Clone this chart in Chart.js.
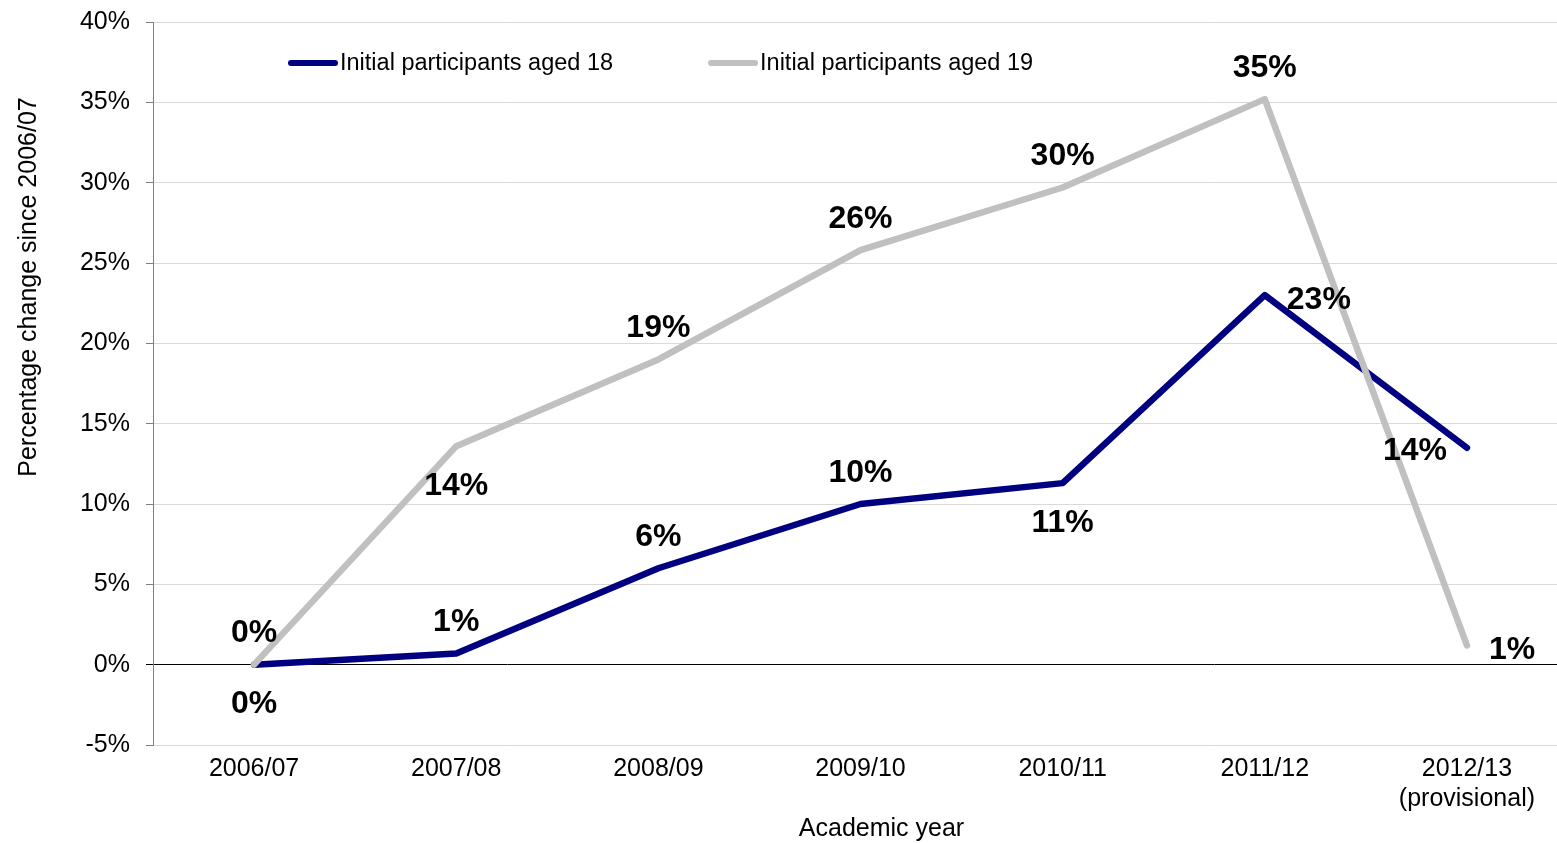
<!DOCTYPE html>
<html><head><meta charset="utf-8">
<script src="https://cdn.jsdelivr.net/npm/chart.js@4"></script>
<style>html,body{margin:0;padding:0;background:#fff;overflow:hidden;width:1557px;height:843px}#wrap{width:1568px;height:852px;position:relative;margin-top:-9px}</style>
</head><body><div id="wrap"><canvas id="c"></canvas></div>
<script>
const categories = ['2006/07','2007/08','2008/09','2009/10','2010/11','2011/12',['2012/13','(provisional)']];
const seriesNames = ['Initial participants aged 18','Initial participants aged 19'];
const aged18 = [0, 0.7, 6.0, 10.0, 11.3, 23.0, 13.5];
const aged19 = [0, 13.6, 19.0, 25.8, 29.7, 35.2, 1.2];
const yTickValues = [-5, 0, 5, 10, 15, 20, 25, 30, 35, 40];
const labelPlaces18 = ['below','above','above','above','below','right','left'];
const labelPlaces19 = ['above','below','above','above','above','above','right'];
const xAxisTitle = 'Academic year';
const yAxisTitle = 'Percentage change since 2006/07';

const FONT = '"Liberation Sans", Arial, sans-serif';

const valueLabels = {
  id: 'valueLabels',
  afterDatasetsDraw(chart) {
    const ctx = chart.ctx;
    ctx.save();
    ctx.font = 'bold 32px ' + FONT;
    ctx.fillStyle = '#000';
    ctx.textBaseline = 'alphabetic';
    chart.data.datasets.forEach((ds, di) => {
      const meta = chart.getDatasetMeta(di);
      meta.data.forEach((pt, i) => {
        const text = Math.round(ds.data[i]) + '%';
        let x = pt.x, cy = pt.y, align = 'center';
        switch (ds.labelPlaces[i]) {
          case 'above': cy -= 34; break;
          case 'below': cy += 37; break;
          case 'right': x += 22; cy += 2; align = 'left'; break;
          case 'left': x -= 20; cy += 1; align = 'right'; break;
        }
        ctx.textAlign = align;
        ctx.fillText(text, x, cy + 11.5);
      });
    });
    ctx.restore();
  }
};

const innerLegend = {
  id: 'innerLegend',
  afterDraw(chart) {
    const ctx = chart.ctx;
    const area = chart.chartArea;
    ctx.save();
    ctx.font = '23.5px ' + FONT;
    ctx.textBaseline = 'middle';
    ctx.textAlign = 'left';
    let x = area.left + 135;
    const y = area.top + 41;
    chart.data.datasets.forEach((ds) => {
      ctx.strokeStyle = ds.borderColor;
      ctx.lineWidth = 6;
      ctx.lineCap = 'round';
      ctx.beginPath();
      ctx.moveTo(x + 3, y);
      ctx.lineTo(x + 47, y);
      ctx.stroke();
      ctx.fillStyle = '#000';
      ctx.fillText(ds.label, x + 52, y + 1);
      x += 52 + ctx.measureText(ds.label).width + 95;
    });
    ctx.restore();
  }
};

const axisTitles = {
  id: 'axisTitles',
  afterDraw(chart) {
    const ctx = chart.ctx;
    const area = chart.chartArea;
    ctx.save();
    ctx.font = '25px ' + FONT;
    ctx.fillStyle = '#000';
    ctx.textAlign = 'center';
    ctx.textBaseline = 'middle';
    ctx.fillText(xAxisTitle, (area.left + area.right) / 2 + 21, chart.height - 14);
    ctx.translate(29, area.top + 265);
    ctx.rotate(-Math.PI / 2);
    ctx.fillText(yAxisTitle, 0, 0);
    ctx.restore();
  }
};

new Chart(document.getElementById('c'), {
  type: 'line',
  data: {
    labels: categories,
    datasets: [
      {
        label: seriesNames[0], data: aged18, labelPlaces: labelPlaces18,
        borderColor: '#000080', backgroundColor: '#000080', borderWidth: 6.5,
        pointRadius: 0, tension: 0, borderJoinStyle: 'round', borderCapStyle: 'round', order: 1
      },
      {
        label: seriesNames[1], data: aged19, labelPlaces: labelPlaces19,
        borderColor: '#c0c0c0', backgroundColor: '#c0c0c0', borderWidth: 6.5,
        pointRadius: 0, tension: 0, borderJoinStyle: 'round', borderCapStyle: 'round', order: 0
      }
    ]
  },
  options: {
    responsive: true,
    maintainAspectRatio: false,
    animation: false,
    layout: { padding: { top: 13, left: 0, right: 0, bottom: 0 } },
    plugins: { legend: { display: false }, tooltip: { enabled: false } },
    scales: {
      x: {
        offset: true,
        grid: { display: false, drawTicks: false },
        border: { display: false },
        ticks: { color: '#000', font: { family: FONT, size: 25 }, padding: 9, maxRotation: 0, autoSkip: false },
        title: { display: false, text: xAxisTitle },
        afterFit(scale) { scale.height = 98; }
      },
      y: {
        min: -5, max: 40,
        afterBuildTicks(scale) { scale.ticks = yTickValues.map(v => ({ value: v })); },
        grid: {
          color: (c) => (c.tick && c.tick.value === 0) ? '#000' : '#d9d9d9',
          tickColor: (c) => (c.tick && c.tick.value === 0) ? '#000' : '#7f7f7f',
          tickLength: 7, lineWidth: 1
        },
        border: { display: true, color: '#7f7f7f', width: 1 },
        ticks: { color: '#000', font: { family: FONT, size: 25 }, padding: 16, callback: (v) => v + '%' },
        title: { display: false, text: yAxisTitle },
        afterFit(scale) { scale.width = 153; }
      }
    }
  },
  plugins: [valueLabels, innerLegend, axisTitles]
});
</script>
</body></html>
